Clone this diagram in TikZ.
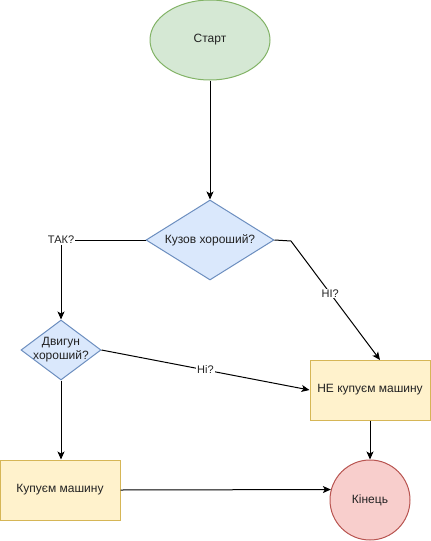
\documentclass[tikz,border=0pt]{standalone}
\usepackage{fontspec}
\setmainfont{Liberation Sans}
\usetikzlibrary{shapes.geometric,arrows.meta}
\definecolor{gfill}{HTML}{D5E8D4}\definecolor{gline}{HTML}{82B366}
\definecolor{bfill}{HTML}{DAE8FC}\definecolor{bline}{HTML}{6C8EBF}
\definecolor{yfill}{HTML}{FFF2CC}\definecolor{yline}{HTML}{D6B656}
\definecolor{rfill}{HTML}{F8CECC}\definecolor{rline}{HTML}{B85450}
\definecolor{txt}{HTML}{222222}
\tikzset{
  base/.style={line width=1pt, inner sep=0pt, text=txt, font=\fontsize{12}{14}\selectfont},
  startnode/.style={base, ellipse, draw=gline, fill=gfill, minimum width=120pt, minimum height=80pt},
  decision/.style={base, diamond, draw=bline, fill=bfill},
  dtext/.style={base, align=center},
  procbox/.style={base, rectangle, draw=yline, fill=yfill, minimum width=120pt, minimum height=60pt},
  endnode/.style={base, circle, draw=rline, fill=rfill, minimum size=80pt},
  arr/.style={line width=1pt, -{Stealth[length=8pt,width=7pt,inset=2pt]}},
  lbl/.style={fill=white, inner sep=1pt, text=txt, font=\fontsize{11}{13}\selectfont}
}
\begin{document}
\begin{tikzpicture}[x=1pt,y=-1pt]
\useasboundingbox (0,0) rectangle (431,541);
\node[startnode] (start) at (210,40) {Старт};
\node[decision, minimum width=128pt, minimum height=80pt] (d1) at (210,240) {};
\node[dtext] (d1t) at (d1) {Кузов хороший?};
\node[decision, minimum width=80pt, minimum height=60pt] (d2) at (61,350) {};
\node[dtext] (d2t) at (d2) {Двигун\\хороший?};
\node[procbox] (b1) at (60,490) {Купуєм машину};
\node[procbox] (b2) at (370,390) {НЕ купуєм машину};
\node[endnode] (end) at (370,500) {Кінець};
\coordinate (c1) at (291,241);
\coordinate (b2top) at (380,360);
\coordinate (d2top) at (61,320);

\draw[arr] (start.south) -- (d1.north);
\draw[arr] (d1.west) -| (d2.north) node[pos=0.5, lbl] {ТАК?};
\draw[arr] (d1.east) -- (c1) -- (b2top) node[pos=0.44, lbl] {НІ?};
\draw[arr] (d2.east) -- (b2.west) node[pos=0.5, lbl] {Ні?};
\draw[arr] (d2.south) -- (d2.south |- b1.north);
\draw[arr] (b2.south) -- (end.north);
\draw[arr] (b1.east) -- (end.165.5);
\end{tikzpicture}
\end{document}
